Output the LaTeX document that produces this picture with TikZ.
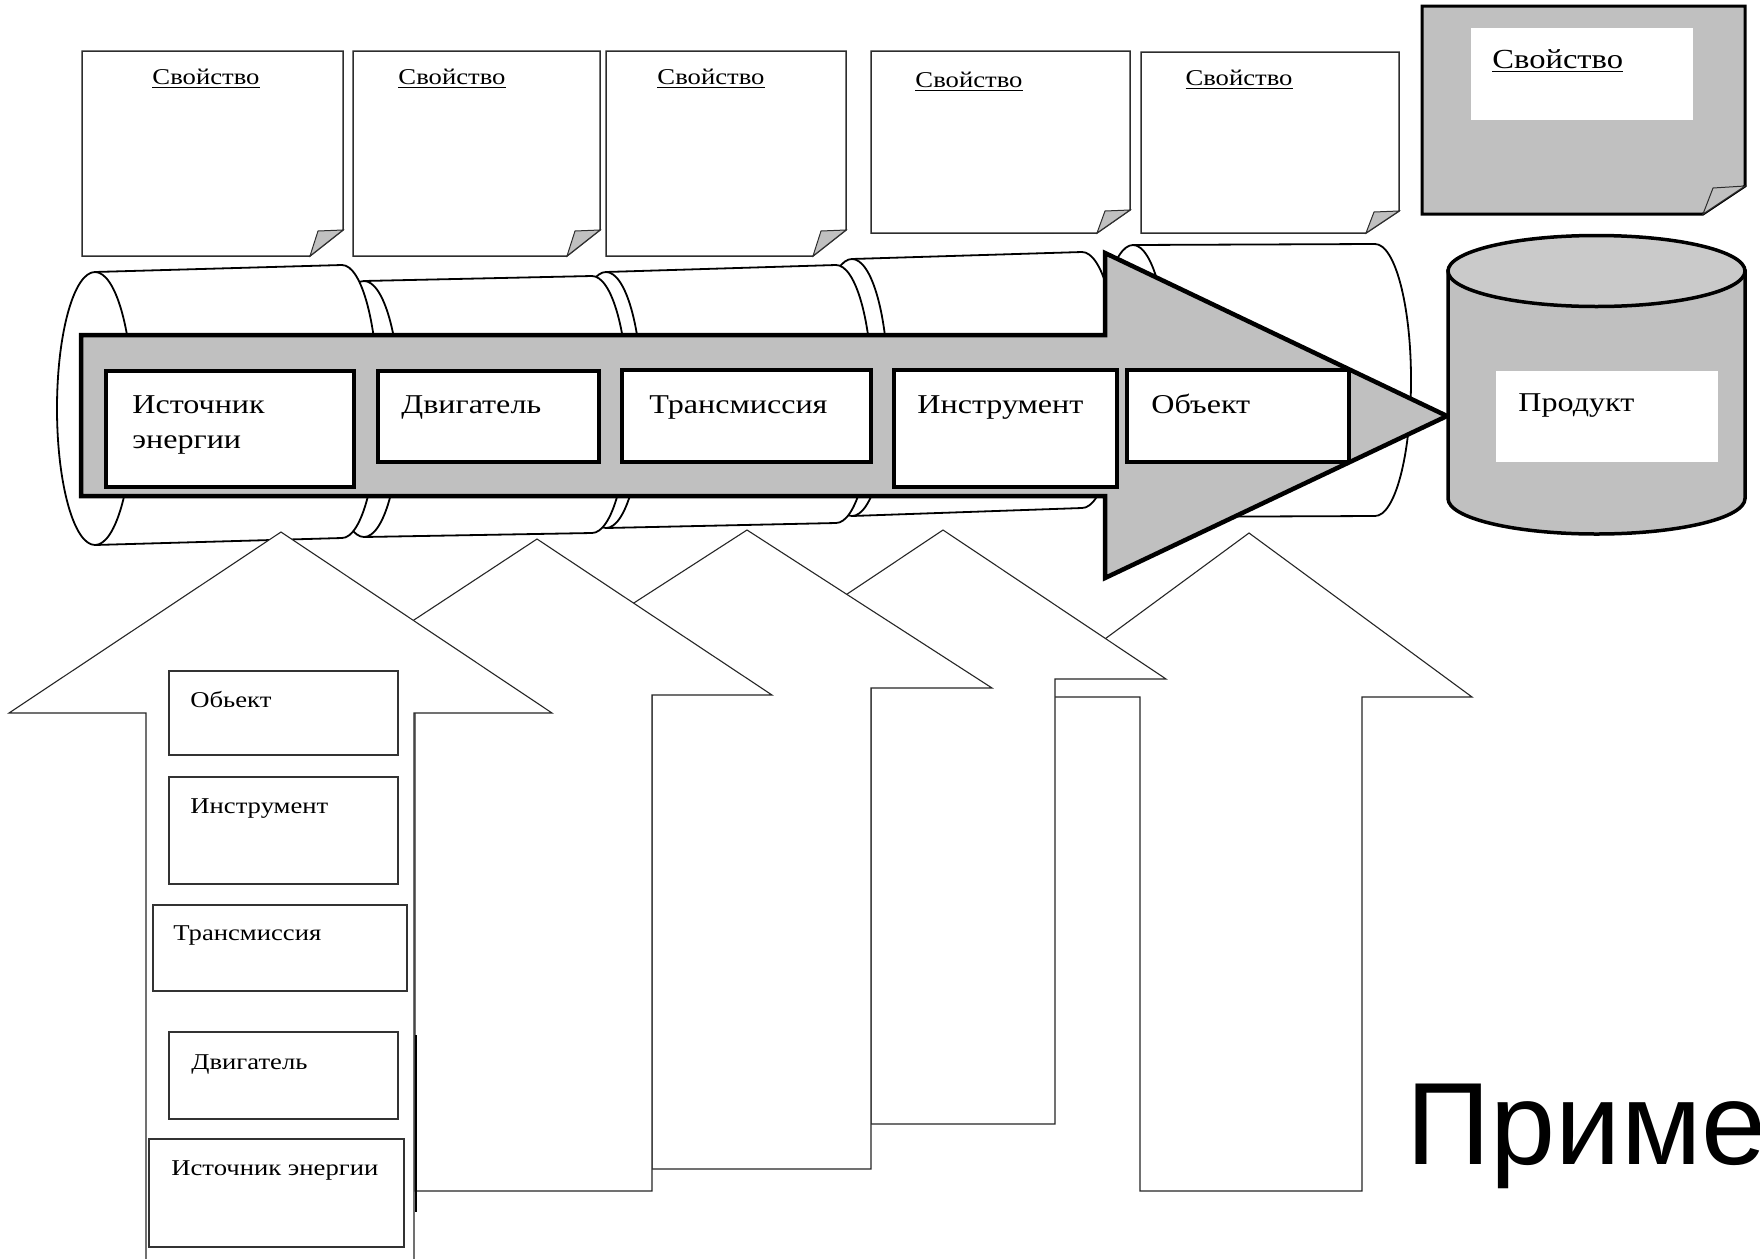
\documentclass[tikz,border=0pt]{standalone}
\usepackage{fontspec}
\setmainfont{Liberation Serif}[FakeStretch=1.18]
\newfontfamily\titlefont{Liberation Sans}
\definecolor{fillgray}{RGB}{192,192,192}
\definecolor{topgray}{RGB}{202,202,202}
\definecolor{notegray}{RGB}{45,45,45}
\tikzset{
  notetxt/.style={font=\fontsize{11.3}{13}\selectfont, anchor=base, inner sep=0pt},
  bigtxt/.style={font=\fontsize{13.6}{16}\selectfont, anchor=base west, inner sep=0pt},
  lowtxt/.style={font=\fontsize{11.3}{13}\selectfont, anchor=base west, inner sep=0pt},
  note/.style={draw=notegray, line width=0.75pt, fill=white, line join=miter},
  flap/.style={draw=notegray, line width=0.5pt, fill=fillgray},
  cyl/.style={draw=black, line width=0.9pt, fill=white},
  cylline/.style={draw=black, line width=0.9pt},
  mainarrow/.style={draw=black, line width=2.25pt, fill=fillgray, line join=miter},
  mainbox/.style={draw=black, line width=2pt, fill=white},
  uparrow/.style={draw=black!85, line width=0.55pt, fill=white, line join=miter},
  lowbox/.style={draw=black!80, line width=0.6pt, fill=white},
}
\begin{document}
\begin{tikzpicture}[x=0.5pt, y=-0.5pt]
\useasboundingbox (0,0) rectangle (1760,1258);
\clip (0,0) rectangle (1760,1258);
\fill[white] (0,0) rectangle (1760,1258);

% ---- property notes ----
\draw[note] (82,51) -- (343,51) -- (343,230) -- (310,256) -- (82,256) -- cycle;
\draw[flap] (310,256) -- (318,231) -- (343,230) -- cycle;
\node[notetxt] (p1) at (206,84) {\underline{Свойство}};

\draw[note] (353,51) -- (600,51) -- (600,230) -- (567,256) -- (353,256) -- cycle;
\draw[flap] (567,256) -- (575,231) -- (600,230) -- cycle;
\node[notetxt] (p2) at (452,84) {\underline{Свойство}};

\draw[note] (606,51) -- (846,51) -- (846,230) -- (813,256) -- (606,256) -- cycle;
\draw[flap] (813,256) -- (821,231) -- (846,230) -- cycle;
\node[notetxt] (p3) at (711,84) {\underline{Свойство}};

\draw[note] (871,51) -- (1130,51) -- (1130,210) -- (1097,233) -- (871,233) -- cycle;
\draw[flap] (1097,233) -- (1105,211) -- (1130,210) -- cycle;
\node[notetxt] (p4) at (969,87) {\underline{Свойство}};

\draw[note] (1141,52) -- (1399,52) -- (1399,211) -- (1366,233) -- (1141,233) -- cycle;
\draw[flap] (1366,233) -- (1374,212) -- (1399,211) -- cycle;
\node[notetxt] (p5) at (1239,85) {\underline{Свойство}};

% grey note
\draw[draw=black, line width=1.5pt, fill=fillgray] (1422,6) -- (1745,6) -- (1745,186) -- (1703,214) -- (1422,214) -- cycle;
\draw[flap] (1703,214) -- (1713,188) -- (1745,186) -- cycle;
\fill[white] (1471,28) rectangle (1693,120);
\node[bigtxt, font=\fontsize{13.8}{16}\selectfont] (p6) at (1492,68) {\underline{Свойство}};

% ---- cylinder segments (back to front) ----
\path[cyl] (1133,245) -- (1375,244) arc[start angle=90,end angle=-90,x radius=18pt,y radius=68pt] -- (1133,517) arc[start angle=270,end angle=90,x radius=18pt,y radius=68pt] -- cycle;
\draw[cylline] (1133,245) arc[start angle=90,end angle=-90,x radius=18pt,y radius=68pt];

\path[cyl] (852,259) -- (1082,252) arc[start angle=90,end angle=-90,x radius=18pt,y radius=64pt] -- (852,516) arc[start angle=270,end angle=90,x radius=18pt,y radius=64.25pt] -- cycle;
\draw[cylline] (852,259) arc[start angle=90,end angle=-90,x radius=18pt,y radius=64.25pt];

\path[cyl] (606,272) -- (836,265) arc[start angle=90,end angle=-90,x radius=18pt,y radius=64.5pt] -- (606,528) arc[start angle=270,end angle=90,x radius=18pt,y radius=64pt] -- cycle;
\draw[cylline] (606,272) arc[start angle=90,end angle=-90,x radius=18pt,y radius=64pt];

\path[cyl] (364,281) -- (592,276) arc[start angle=90,end angle=-90,x radius=18pt,y radius=64.25pt] -- (364,537) arc[start angle=270,end angle=90,x radius=18pt,y radius=64pt] -- cycle;
\draw[cylline] (364,281) arc[start angle=90,end angle=-90,x radius=18pt,y radius=64pt];

\path[cyl] (95,272) -- (342,265) arc[start angle=90,end angle=-90,x radius=18pt,y radius=68.25pt] -- (95,545) arc[start angle=270,end angle=90,x radius=19pt,y radius=68.25pt] -- cycle;
\draw[cylline] (95,272) arc[start angle=90,end angle=-90,x radius=19pt,y radius=68.25pt];

% ---- main grey arrow ----
\draw[mainarrow] (81,335) -- (1105,335) -- (1105,253) -- (1447,416) -- (1105,578) -- (1105,496) -- (81,496) -- cycle;

\draw[mainbox] (106,371) rectangle (354,487);
\draw[mainbox] (378,371) rectangle (599,462);
\draw[mainbox] (622,370) rectangle (871,462);
\draw[mainbox] (894,370) rectangle (1117,487);
\draw[mainbox] (1127,370) rectangle (1349,462);
\node[bigtxt] (m1a) at (132,413) {Источник};
\node[bigtxt] (m1b) at (132,448) {энергии};
\node[bigtxt] (m2) at (401,413) {Двигатель};
\node[bigtxt] (m3) at (649,413) {Трансмиссия};
\node[bigtxt] (m4) at (917,413) {Инструмент};
\node[bigtxt] (m5) at (1151,413) {Объект};

% ---- product cylinder ----
\path[draw=black, line width=1.75pt, fill=fillgray] (1448,271) -- (1448,498.5) arc[start angle=180,end angle=360,x radius=74.25pt,y radius=17.75pt] -- (1745,271) -- cycle;
\draw[draw=black, line width=1.75pt, fill=topgray] (1596.5,271) ellipse[x radius=74.25pt, y radius=17.75pt];
\fill[white] (1496,371) rectangle (1718,462);
\node[bigtxt] (prod) at (1518,411) {Продукт};

% ---- lower arrows (back to front) ----
\draw[uparrow] (1249,533) -- (1472,697) -- (1362,697) -- (1362,1191) -- (1140,1191) -- (1140,697) -- (1026,697) -- cycle;
\draw[uparrow] (943,530) -- (1166,679) -- (1055,679) -- (1055,1124) -- (871,1124) -- (871,679) -- (720,679) -- cycle;
\draw[uparrow] (747,530) -- (992,688) -- (871,688) -- (871,1169) -- (652,1169) -- (652,688) -- (502,688) -- cycle;
\draw[uparrow] (537,539) -- (772,695) -- (652,695) -- (652,1191) -- (415,1191) -- (415,695) -- (300,695) -- cycle;
\draw[line width=1pt] (416,1035) -- (416,1212);
\draw[uparrow] (281,532) -- (552,713) -- (414,713) -- (414,1275) -- (146,1275) -- (146,713) -- (9,713) -- cycle;

\draw[lowbox] (169,671) rectangle (398,755);
\draw[lowbox] (169,777) rectangle (398,884);
\draw[lowbox] (153,905) rectangle (407,991);
\draw[lowbox] (169,1032) rectangle (398,1119);
\draw[lowbox] (149,1139) rectangle (404,1247);
\node[lowtxt] (l1) at (190,707) {Обьект};
\node[lowtxt] (l2) at (190,813) {Инструмент};
\node[lowtxt] (l3) at (173,940) {Трансмиссия};
\node[lowtxt] (l4) at (191,1069) {Двигатель};
\node[lowtxt] (l5) at (171,1175) {Источник энергии};

% ---- title ----
\node[anchor=base west, inner sep=0pt, font=\titlefont\fontsize{58.5}{70}\selectfont] (title) at (1406,1164) {Пример};
\end{tikzpicture}
\end{document}
